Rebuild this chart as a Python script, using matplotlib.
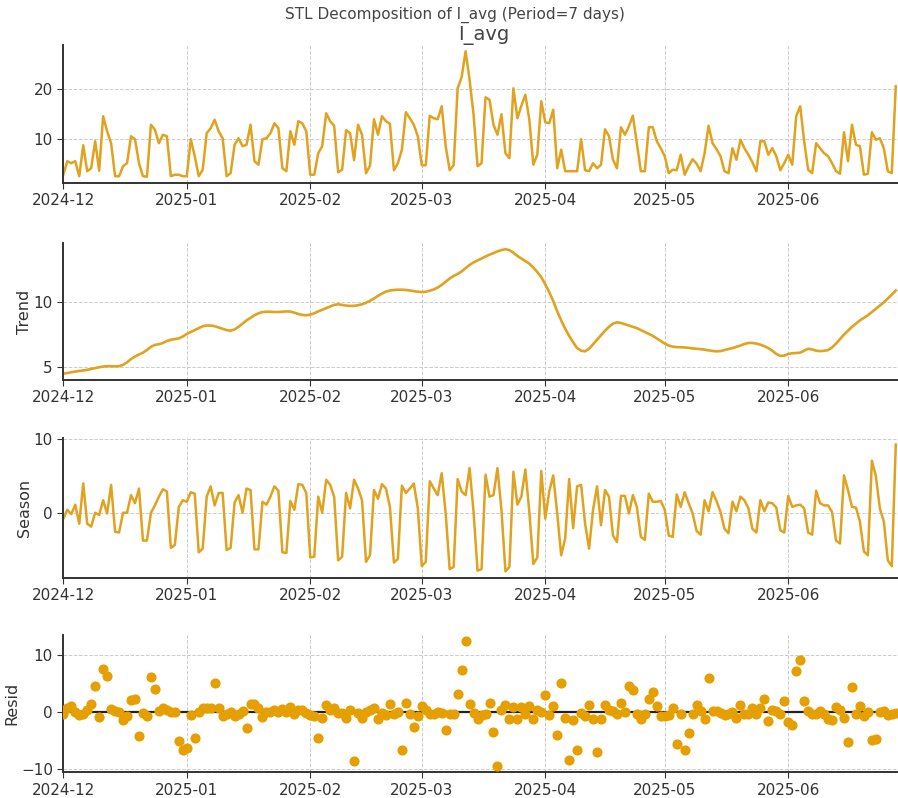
import matplotlib
matplotlib.use("Agg")
import matplotlib.pyplot as plt
import matplotlib.dates as mdates
from matplotlib.ticker import MaxNLocator
import pandas as pd

# daily values, 2024-12-01 .. 2025-06-28
dates = pd.date_range("2024-12-01", "2025-06-28", freq="D")

observed = [
    2.8, 5.5, 5.1, 5.5, 2.5, 8.7, 3.5, 4.1, 9.5, 3.6,
    14.5, 11.5, 9.1, 2.5, 2.5, 4.5, 5.1, 10.5, 9.9, 5.1,
    2.5, 2.4, 12.8, 11.8, 9.1, 10.8, 10.5, 2.5, 2.8, 2.8,
    2.5, 2.5, 9.9, 6.5, 2.5, 3.8, 11.1, 12.1, 13.8, 11.5,
    10.1, 2.5, 3.1, 8.8, 10.1, 8.5, 8.8, 12.8, 5.5, 4.8,
    9.9, 10.1, 11.1, 13.1, 12.1, 4.1, 3.5, 11.5, 8.8, 13.5,
    13.1, 11.5, 2.8, 2.8, 7.1, 8.5, 15.1, 13.5, 12.6, 3.3,
    3.8, 11.7, 11.1, 5.7, 12.8, 10.8, 3.1, 4.6, 13.9, 10.8,
    14.5, 13.5, 13.0, 3.7, 5.1, 7.8, 15.3, 14.1, 12.8, 10.5,
    4.7, 4.7, 14.6, 14.1, 13.9, 16.5, 8.5, 3.7, 4.7, 20.1,
    22.3, 27.5, 21.8, 14.8, 4.5, 5.1, 18.3, 17.8, 12.8, 10.8,
    14.9, 7.1, 6.1, 20.1, 14.1, 16.6, 18.8, 13.8, 4.8, 6.8,
    17.5, 13.3, 13.1, 15.8, 4.1, 7.8, 3.5, 3.5, 3.5, 3.5,
    9.9, 3.7, 3.5, 5.1, 4.1, 4.8, 11.9, 10.5, 5.8, 4.1,
    12.3, 10.8, 12.5, 14.6, 9.1, 3.5, 3.5, 12.3, 12.3, 9.5,
    8.1, 6.5, 3.1, 3.8, 3.7, 6.8, 2.8, 4.5, 5.9, 5.0,
    3.5, 7.1, 12.6, 9.1, 7.9, 6.5, 3.5, 3.1, 8.1, 5.8,
    9.8, 8.1, 6.8, 5.3, 3.5, 9.5, 9.5, 6.8, 8.1, 6.5,
    3.7, 5.1, 6.8, 4.8, 14.5, 16.5, 9.5, 3.8, 3.1, 9.1,
    8.1, 7.1, 6.5, 5.1, 3.5, 3.0, 11.3, 5.5, 12.8, 8.8,
    8.5, 2.8, 3.0, 11.3, 9.8, 10.1, 8.1, 3.5, 3.1, 20.5,
]

trend = [
    4.46, 4.52, 4.58, 4.63, 4.68, 4.72, 4.77, 4.83, 4.90, 4.97,
    5.02, 5.05, 5.05, 5.04, 5.05, 5.15, 5.35, 5.6, 5.8, 5.95,
    6.1, 6.3, 6.55, 6.7, 6.75, 6.85, 7.0, 7.1, 7.15, 7.2,
    7.35, 7.55, 7.7, 7.85, 8.0, 8.15, 8.2, 8.2, 8.15, 8.05,
    7.95, 7.85, 7.8, 7.9, 8.1, 8.35, 8.6, 8.8, 9.0, 9.15,
    9.25, 9.27, 9.27, 9.25, 9.25, 9.27, 9.3, 9.28, 9.2, 9.1,
    9.02, 9.0, 9.05, 9.15, 9.3, 9.42, 9.55, 9.68, 9.8, 9.85,
    9.8, 9.75, 9.72, 9.73, 9.78, 9.85, 9.97, 10.12, 10.3, 10.5,
    10.68, 10.83, 10.92, 10.96, 10.98, 10.98, 10.96, 10.92, 10.87, 10.83,
    10.8, 10.82, 10.9, 11.0, 11.15, 11.35, 11.6, 11.85, 12.05, 12.2,
    12.4, 12.65, 12.9, 13.1, 13.25, 13.4, 13.55, 13.7, 13.82, 13.95,
    14.05, 14.12, 14.05, 13.85, 13.6, 13.4, 13.2, 13.0, 12.7, 12.35,
    11.95, 11.4, 10.8, 10.1, 9.3, 8.6, 7.95, 7.4, 6.9, 6.45,
    6.25, 6.2, 6.4, 6.75, 7.1, 7.45, 7.8, 8.1, 8.35, 8.45,
    8.4, 8.3, 8.2, 8.1, 8.0, 7.85, 7.7, 7.55, 7.4, 7.2,
    7.0, 6.8, 6.65, 6.56, 6.53, 6.52, 6.5, 6.47, 6.43, 6.4,
    6.37, 6.33, 6.28, 6.23, 6.2, 6.22, 6.3, 6.38, 6.45, 6.55,
    6.65, 6.77, 6.85, 6.85, 6.8, 6.72, 6.6, 6.45, 6.25, 6.0,
    5.85, 5.87, 6.0, 6.05, 6.07, 6.1, 6.25, 6.4, 6.35, 6.25,
    6.22, 6.24, 6.3, 6.5, 6.8, 7.15, 7.5, 7.8, 8.1, 8.35,
    8.6, 8.8, 9.0, 9.25, 9.5, 9.75, 10.0, 10.3, 10.6, 10.92,
]

season = [
    -0.8, 0.4, -0.2, 1.1, -1.5, 4.0, -1.5, -1.9, 0.0, -0.3,
    1.7, -0.1, 3.8, -2.6, -2.7, 0.0, 0.0, 2.4, 1.3, 3.3,
    -3.8, -3.8, 0.0, 1.0, 2.2, 3.2, 2.9, -4.8, -4.4, 0.8,
    1.7, 1.5, 2.8, 2.6, -5.4, -4.9, 2.2, 3.6, 1.0, 2.7,
    2.7, -5.1, -4.8, 1.4, 2.4, 0.0, 3.3, 3.1, -5.0, -5.0,
    1.5, 1.1, 2.2, 3.6, 3.0, -5.4, -5.5, 1.6, 0.4, 3.9,
    3.8, 2.7,
    -6.1, -6.0, 2.2, 0.0, 4.5, 3.8, 2.2,
    -6.5, -6.0, 2.7, 0.6, 4.5, 3.3, 1.7,
    -6.7, -5.8, 3.1, 1.9, 3.9, 3.3, 0.8,
    -6.8, -6.3, 3.7, 2.7, 3.3, 4.0, 0.6,
    -7.3, -6.7, 4.3, 3.3, 2.4, 5.4, -0.1,
    -7.7, -7.4, 4.6, 2.9, 2.4, 6.1, 0.1,
    -7.9, -7.7, 5.2, 2.2, 2.4, 6.1, 0.4,
    -8.0, -7.4, 5.6, 1.1, 2.2, 5.9, 0.1,
    -7.0, -6.1, 5.7, -0.8, 2.9, 5.1, -0.1,
    -5.8, -3.5, 4.6, -2.1, 3.6, 3.8, -1.5,
    -4.9, 0.4, 3.6,
    -1.7, 3.1, 2.2, -3.1, -4.0,
    2.3, 2.3, -0.1, 2.4, 0.8, -3.3, -3.7,
    2.6, 1.5, 1.5, 1.6, 0.4, -3.1, -3.3,
    2.5, 0.8, 2.8, 1.3, -0.1, -2.5, -3.0,
    1.7, 0.2, 2.8, 1.6, 0.1, -2.2, -2.8,
    1.5, 0.2, 2.2, 1.7, 0.6, -2.2, -2.7,
    1.7, 0.2, 1.4, 1.3, 0.7, -2.4, -2.7,
    2.3, 0.8, 1.0, 1.1, 0.6, -2.7, -3.0,
    3.0, 1.3, 1.0, 1.0, 0.1, -3.8, -4.2,
    5.1, 3.1, 0.8, 0.7, -1.2, -5.3, -5.8,
    7.1, 5.0, 0.6, -1.2, -6.5, -7.3, 9.3,
]

resid = [
    -0.4, 0.7, 1.0, -0.1, -0.6, -0.4, 0.3, 1.3, 4.5, -0.9,
    7.5, 6.3, 0.5, 0.2, 0.0, -1.4, -0.7, 2.1, 2.3, -4.3,
    -0.2, -0.7, 6.2, 4.0, 0.2, 0.6, 0.3, -0.1, 0.0, -5.1,
    -6.6, -6.4, -0.6, -4.5, -0.1, 0.7, 0.6, 0.6, 5.0, 0.7,
    -0.8, -0.4, 0.0, -0.8, -0.4, 0.2, -2.9, 1.3, 1.3, 0.7,
    -0.9, 0.0, -0.1, 0.3, 0.0, 0.5, 0.0, 0.9, -0.4, 0.3,
    0.3, -0.2, -0.6, -0.8, -4.5, -1.0, 1.2, 0.4, 0.6, -0.2,
    -0.2, -1.0, 0.4, -8.6, -0.2, -1.0, 0.0, 0.3, 0.6, -1.3,
    -0.2, -0.6, 1.3, -0.4, 0.0, -6.7, 1.6, -0.3, -2.6, -0.8,
    1.0, 0.3, -0.4, -0.3, 0.0, -0.2, -3.1, -0.4, -0.4, 3.1,
    7.3, 12.4, 1.3, -0.2, -1.3, -0.6, -0.3, 1.6, -3.6, -9.5,
    0.4, 1.2, -1.2, 0.8, -1.2, 0.8, -0.3, 1.0, -1.2, 0.4,
    0.0, 2.9, -0.6, 1.0, -4.1, 5.1, -1.0, -8.5, -1.5, -6.6,
    -0.2, -0.8, 1.2, -1.2, -7.0, -1.2, 1.2, 0.4, 0.2, -0.4,
    1.6, 0.0, 4.5, 3.9, -0.4, -1.2, -0.3, 2.2, 3.5, 1.0,
    -0.8, -0.8, -0.6, 0.6, -5.6, -0.3, -6.7, -3.7, -0.3, 1.2,
    0.2, -1.3, 6.0, 0.2, 0.2, -0.2, -0.6, -0.4, 0.0, -1.0,
    1.2, -0.3, -0.3, 0.6, -0.4, 0.6, 2.3, -1.6, 0.4, 0.2,
    -0.3, 2.0, -1.7, -2.3, 7.2, 9.1, 1.9, 0.2, -0.3, -0.4,
    0.2, -0.3, -1.2, -1.5, 0.8, 0.4, -1.0, -5.2, 4.4, -0.3,
    1.0, -0.8, 0.0, -4.9, -4.7, 0.0, 0.2, -0.6, -0.3, -0.2,
]

series_name = "I_avg"
period = 7

line_color = "#E0A21F"
dot_color = "#E69F00"
text_color = "#333333"

fig = plt.figure(figsize=(8.98, 7.98), dpi=100)

# axes boxes in figure fractions: the original was cropped on the right
left, width = 0.0705, 0.9359
boxes = [
    (0.7707, 0.1729),
    (0.5238, 0.1717),
    (0.2761, 0.1747),
    (0.0322, 0.1721),
]
axes = [fig.add_axes([left, b, width, h]) for b, h in boxes]

axes[0].plot(dates, observed, color=line_color, lw=1.8)
axes[1].plot(dates, trend, color=line_color, lw=1.9)
axes[2].plot(dates, season, color=line_color, lw=1.8)
axes[3].axhline(0, color="#222222", lw=1.6, zorder=1)
axes[3].plot(dates, resid, "o", color=dot_color, ms=6.3, zorder=3)

axes[0].set_title(series_name, fontsize=14, color="#444444", pad=3)
axes[1].set_ylabel("Trend", fontsize=11.5, color=text_color, labelpad=1)
axes[2].set_ylabel("Season", fontsize=11.5, color=text_color, labelpad=1)
axes[3].set_ylabel("Resid", fontsize=11.5, color=text_color, labelpad=1)

for ax in axes:
    ax.set_xlim(pd.Timestamp("2024-12-01"), pd.Timestamp("2025-06-30"))
    ax.xaxis.set_major_locator(mdates.MonthLocator())
    ax.xaxis.set_major_formatter(mdates.DateFormatter("%Y-%m"))
    ax.yaxis.set_major_locator(MaxNLocator(3, steps=[1, 2.5, 5, 10]))
    ax.grid(True, linestyle="--", color="#cccccc", lw=0.7)
    ax.set_axisbelow(True)
    for side in ["top", "right"]:
        ax.spines[side].set_visible(False)
    for side in ["left", "bottom"]:
        ax.spines[side].set_color("#333333")
        ax.spines[side].set_linewidth(1.4)
    ax.tick_params(labelsize=11, colors=text_color, length=4)

fig.suptitle("STL Decomposition of %s (Period=%d days)" % (series_name, period),
             x=0.507, y=0.981, va="center", fontsize=11, color="#444444")

fig.savefig("out.png", dpi=100)
